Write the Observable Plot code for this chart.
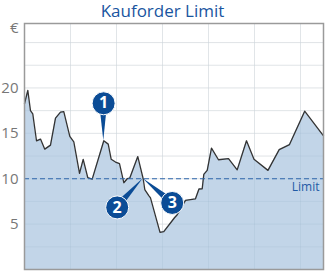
<!DOCTYPE html>
<html>
<head>
<meta charset="utf-8">
<script src="https://cdn.jsdelivr.net/npm/d3@7"></script>
<script src="https://cdn.jsdelivr.net/npm/@observablehq/plot@0.6"></script>
<style>
  html, body { margin: 0; padding: 0; background: #fff; }
  #wrap { position: relative; width: 325px; height: 272px; }
  #title { position: absolute; left: 0; top: 0; width: 325px; text-align: center;
           font-family: "Open Sans", sans-serif; font-size: 17px; color: #1a55a0; line-height: 21px; }
</style>
</head>
<body>
<div id="wrap"><div id="title">Kauforder Limit</div></div>
<script>
const title = "Kauforder Limit";
const times = [0, 0.72, 1.30, 1.80, 2.61, 3.48, 4.41, 5.65, 6.74, 7.83, 8.54, 9.85, 10.72, 11.96, 12.76, 13.76, 14.72,
  17.24, 18.20, 18.85, 19.78, 20.65, 21.59, 22.33, 22.89, 24.63, 25.80, 26.15, 27.02, 27.39, 29.46, 30.28, 32.61, 33.20,
  35.00, 37.17, 37.93, 38.63, 38.98, 39.72, 40.65, 42.17, 44.35, 46.24, 48.26, 49.89, 52.93, 55.37, 57.61, 60.91, 65.0];
const prices = [18.26, 19.73, 17.51, 17.14, 14.18, 14.37, 13.26, 13.70, 16.67, 17.33, 17.40, 14.67, 14.07, 10.59, 12.14, 10.11, 9.95,
  14.18, 13.81, 12.14, 11.84, 11.67, 9.56, 10.0, 10.07, 12.44, 10.0, 8.81, 8.14, 7.89, 4.09, 4.18, 5.70, 6.03,
  7.62, 7.79, 8.87, 8.89, 10.48, 10.92, 13.37, 12.09, 12.22, 10.98, 14.18, 12.14, 10.92, 13.20, 13.76, 17.44, 14.73];
const limitValue = 10;
const limitLabel = "Limit";
const yTicks = [5, 10, 15, 20];
const yGrid = [2.5, 5, 7.5, 10, 12.5, 15, 17.5, 20, 22.5, 25];
const xGrid = [10, 20, 30, 40, 50, 60];
const currencyLabel = "€";
const currencyY = 26.6;
const pinLabels = ["1", "2", "3"];
const pinX = [17.2, 20.15, 32.11];
const pinY = [18.31, 6.84, 7.33];
const pinTipX = [17.24, 25.8, 25.8];
const pinTipY = [14.18, 10.0, 10.0];

const data = times.map((t, i) => ({t, v: prices[i]}));
const pins = pinLabels.map((n, i) => ({n, x: pinX[i], y: pinY[i], tx: pinTipX[i], ty: pinTipY[i]}));
const pinColor = "#0b4c96";

function wedgeRender(index, scales, values) {
  const g = d3.create("svg:g");
  for (const i of index) {
    const x1 = values.x1[i], y1 = values.y1[i], x2 = values.x2[i], y2 = values.y2[i];
    const dx = x2 - x1, dy = y2 - y1, len = Math.hypot(dx, dy) || 1;
    const nx = -dy / len, ny = dx / len, w = 4;
    g.append("path")
      .attr("d", `M${x1 + nx * w},${y1 + ny * w}L${x2},${y2}L${x1 - nx * w},${y1 - ny * w}Z`)
      .attr("fill", pinColor);
  }
  return g.node();
}

const chart = Plot.plot({
  width: 325,
  height: 272,
  marginLeft: 24,
  marginRight: 2,
  marginTop: 23,
  marginBottom: 3,
  style: {fontFamily: "'Open Sans', sans-serif", background: "transparent"},
  x: {domain: [0, 65], axis: null},
  y: {domain: [0, 27.1], axis: null},
  marks: [
    Plot.gridY(yGrid, {stroke: "#efefef", strokeOpacity: 1}),
    Plot.gridX(xGrid, {stroke: "#efefef", strokeOpacity: 1}),
    Plot.areaY(data, {x: "t", y: "v", fill: "#c2d5e8"}),
    Plot.gridY(yGrid, {stroke: "#7f9bb8", strokeOpacity: 0.12}),
    Plot.gridX(xGrid, {stroke: "#7f9bb8", strokeOpacity: 0.12}),
    Plot.lineY(data, {x: "t", y: "v", stroke: "#333", strokeWidth: 1.3}),
    Plot.ruleY([limitValue], {stroke: "#2e65aa", strokeDasharray: "5,3", strokeWidth: 1.2}),
    Plot.text([limitLabel], {x: 65, y: limitValue, text: d => d, dx: -4, dy: 8, textAnchor: "end", fill: "#1f5aa5", fontSize: 12}),
    Plot.frame({stroke: "#9a9a9a", strokeWidth: 1.5}),
    Plot.axisY(yTicks, {tickSize: 0, tickPadding: 6, fontSize: 15, fill: "#777", label: null}),
    Plot.text([currencyLabel], {x: 0, y: currencyY, text: d => d, dx: -6, textAnchor: "end", fill: "#777", fontSize: 15}),
    Plot.link(pins, {x1: "x", y1: "y", x2: "tx", y2: "ty", render: wedgeRender}),
    Plot.dot(pins, {x: "x", y: "y", r: 11.5, fill: pinColor, stroke: "white", strokeWidth: 1}),
    Plot.text(pins, {x: "x", y: "y", text: "n", fill: "white", fontSize: 16, fontWeight: "bold"})
  ]
});
document.getElementById("wrap").prepend(chart);
chart.style.position = "absolute";
chart.style.left = "0";
chart.style.top = "0";
</script>
</body>
</html>
